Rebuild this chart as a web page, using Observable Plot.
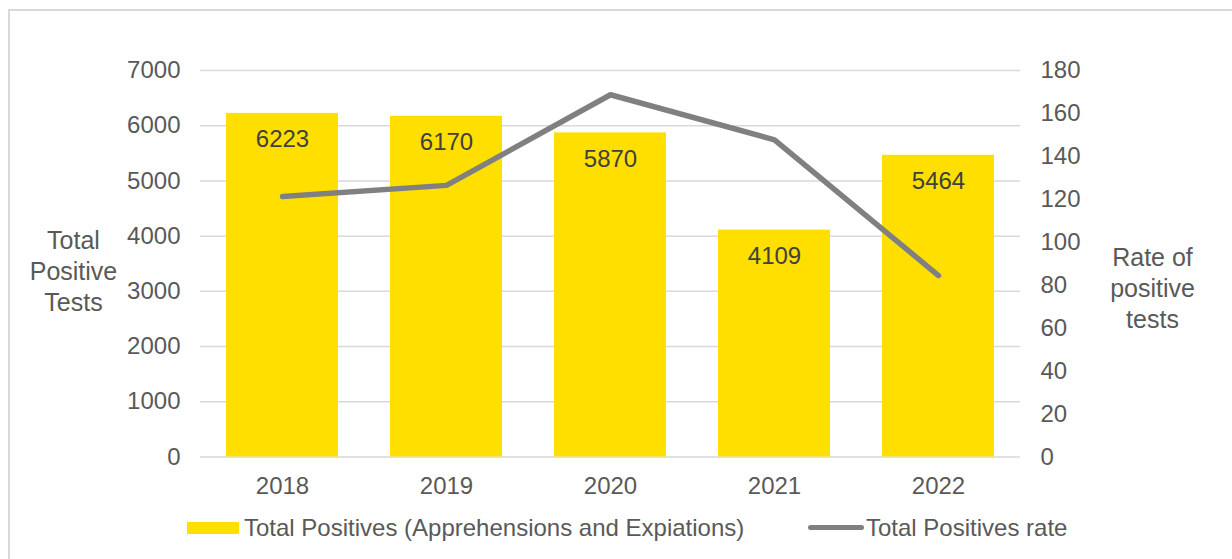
<!DOCTYPE html>
<html>
<head>
<meta charset="utf-8">
<script src="https://cdn.jsdelivr.net/npm/d3@7"></script>
<script src="https://cdn.jsdelivr.net/npm/@observablehq/plot@0.6"></script>
<style>
  html, body { margin: 0; padding: 0; background: #fff; }
  #wrap { position: relative; width: 1232px; height: 559px; overflow: hidden;
          font-family: "Liberation Sans", Arial, sans-serif; }
  #frame { position: absolute; left: 8px; top: 9px; width: 1240px; height: 560px;
           border-top: 2px solid #d9d9d9; border-left: 2px solid #d9d9d9; box-sizing: border-box; }
  #chart { position: absolute; left: 0; top: 0; }
  #legend { position: absolute; left: 0; top: 505px; width: 1232px; height: 46px; color: #595959; font-size: 24px; }
  .sw1 { position: absolute; left: 187px; top: 17px; width: 52px; height: 12px; background: #FFDF00; }
  .t1 { position: absolute; left: 244px; top: 10px; line-height: 26px; white-space: nowrap; }
  .sw2 { position: absolute; left: 808px; top: 20px; width: 56px; height: 5px; background: #808080; border-radius: 3px; }
  .t2 { position: absolute; left: 866px; top: 10px; line-height: 26px; white-space: nowrap; }
</style>
</head>
<body>
<div id="wrap">
  <div id="frame"></div>
  <div id="chart"></div>
  <div id="legend">
    <div class="sw1"></div><div class="t1">Total Positives (Apprehensions and Expiations)</div>
    <div class="sw2"></div><div class="t2">Total Positives rate</div>
  </div>
</div>
<script>
const years = ["2018", "2019", "2020", "2021", "2022"];
const totalPositives = [6223, 6170, 5870, 4109, 5464];
const positiveRate = [121.3, 126.5, 168.7, 147.7, 84.5];
const leftTicks = [0, 1000, 2000, 3000, 4000, 5000, 6000, 7000];
const rightTicks = [0, 20, 40, 60, 80, 100, 120, 140, 160, 180];

const k = 7000 / 180;
const bars = years.map((y, i) => ({year: y, value: totalPositives[i]}));
const rates = years.map((y, i) => ({year: y, rate: positiveRate[i]}));

const textColor = "#595959";

const chart = Plot.plot({
  width: 1232,
  height: 505,
  marginLeft: 200,
  marginRight: 212,
  marginTop: 70,
  marginBottom: 48.5,
  style: { fontFamily: '"Liberation Sans", Arial, sans-serif', fontSize: "24px", color: textColor, background: "transparent" },
  x: { domain: years, paddingInner: 0.32, paddingOuter: 0.16, label: null },
  y: { domain: [0, 7000], label: null },
  marks: [
    Plot.ruleY(leftTicks, { stroke: "#d9d9d9", strokeWidth: 1.5 }),
    Plot.barY(bars, { x: "year", y: "value", fill: "#FFDF00" }),
    Plot.text(bars, { x: "year", y: "value", text: d => String(d.value), dy: 26, fill: "#404040", fontSize: 24, lineAnchor: "middle" }),
    Plot.line(rates, { x: "year", y: d => d.rate * k, stroke: "#808080", strokeWidth: 5.5, strokeLinejoin: "round", strokeLinecap: "round" }),
    Plot.axisY({ anchor: "left", ticks: leftTicks, tickFormat: v => String(v), tickSize: 0, tickPadding: 20, label: null, fill: textColor }),
    Plot.axisY({ anchor: "right", ticks: rightTicks.map(r => r * k), tickFormat: v => String(Math.round(v / k)), tickSize: 0, tickPadding: 20, label: null, fill: textColor }),
    Plot.axisX({ tickSize: 0, tickPadding: 20, label: null, fill: textColor }),
    Plot.text(["Total\nPositive\nTests"], { frameAnchor: "left", dx: -127, dy: 6, text: d => d, textAnchor: "middle", lineHeight: 1.24, fill: textColor, fontSize: 25 }),
    Plot.text(["Rate of\npositive\ntests"], { frameAnchor: "right", dx: 132, dy: 23, text: d => d, textAnchor: "middle", lineHeight: 1.24, fill: textColor, fontSize: 25 })
  ]
});
document.getElementById("chart").appendChild(chart);
</script>
</body>
</html>
